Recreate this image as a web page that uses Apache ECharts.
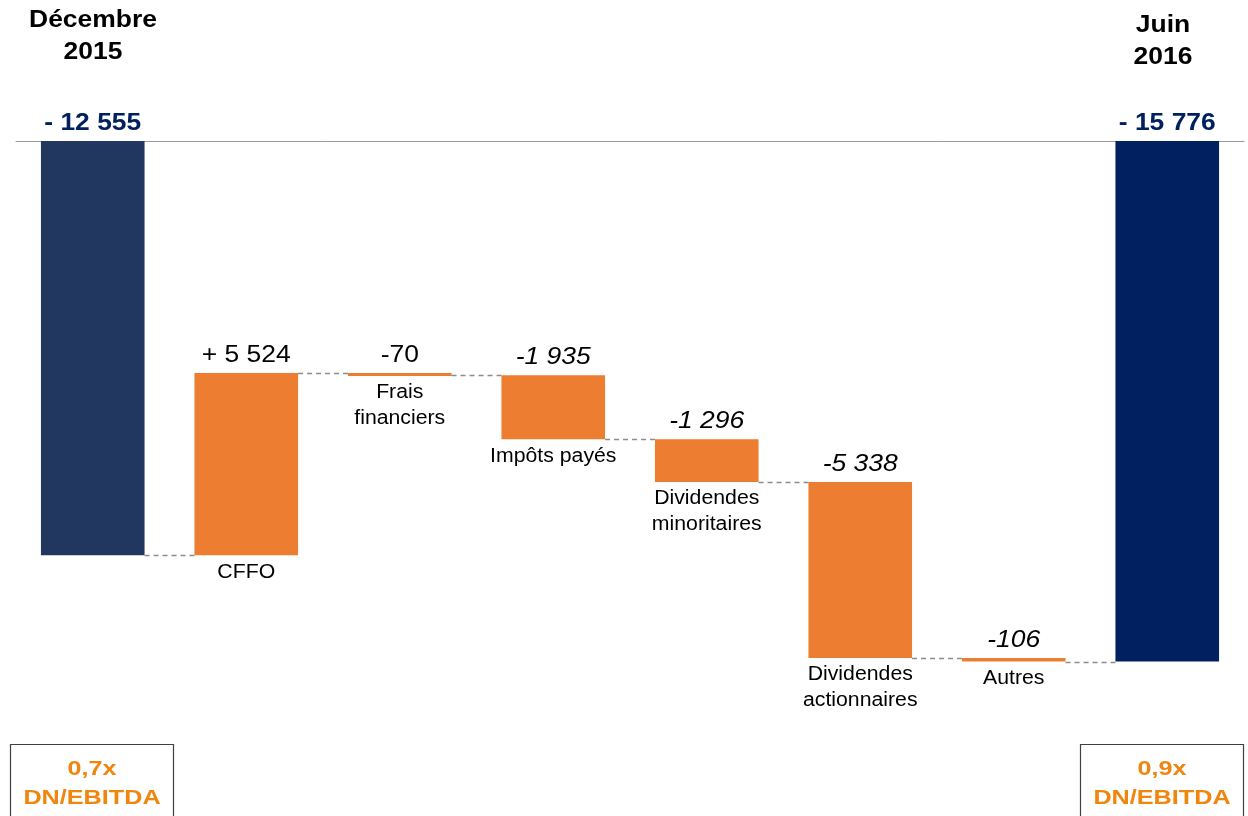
<!DOCTYPE html>
<html>
<head>
<meta charset="utf-8">
<style>html,body{margin:0;padding:0;background:#fff}#chart{width:1248px;height:816px}</style>
<script src="https://cdn.jsdelivr.net/npm/echarts@6/dist/echarts.min.js"></script>
</head>
<body>
<div id="chart"></div>
<script>
// ---- data ----
const categories = ['Décembre 2015', 'CFFO', 'Frais\nfinanciers', 'Impôts payés', 'Dividendes\nminoritaires', 'Dividendes\nactionnaires', 'Autres', 'Juin 2016'];
const deltas = [-12555, 5524, -70, -1935, -1296, -5338, -106, -15776];
const valueLabels = ['- 12 555', '+ 5 524', '-70', '-1 935', '-1 296', '-5 338', '-106', '- 15 776'];
const totalFlags = [true, false, false, false, false, false, false, true];
const headerStart = ['Décembre', '2015'];
const headerEnd = ['Juin', '2016'];
const ratioStart = ['0,7x', 'DN/EBITDA'];
const ratioEnd = ['0,9x', 'DN/EBITDA'];

// ---- build waterfall rows [index, start, end, isTotal] ----
const rows = [];
let running = 0;
deltas.forEach(function (d, i) {
  if (totalFlags[i]) {
    rows.push([i, 0, d, 1]);
    running = d;
  } else {
    rows.push([i, running, running + d, 0]);
    running += d;
  }
});

const chart = echarts.init(document.getElementById('chart'));
const FONT = 'Liberation Sans, Arial, sans-serif';
const STRETCH = 1.15;

function renderItem(params, api) {
  const idx = api.value(0);
  const start = api.value(1);
  const end = api.value(2);
  const isTotal = api.value(3) === 1;
  const band = api.size([1, 0])[0];
  const w = band * 0.675;
  const p1 = api.coord([idx, start]);
  const p2 = api.coord([idx, end]);
  let top = Math.min(p1[1], p2[1]);
  let bottom = Math.max(p1[1], p2[1]);
  if (bottom - top < 3) bottom = top + 3;
  const cx = p1[0];
  let color = '#ED7D31';
  if (isTotal) color = idx === 0 ? '#21375F' : '#002060';
  const children = [{
    type: 'rect',
    shape: { x: cx - w / 2, y: top, width: w, height: bottom - top },
    style: { fill: color }
  }];
  const italic = !isTotal && idx !== 1 && idx !== 2;
  children.push({
    type: 'text',
    x: cx, y: top - 6,
    scaleX: isTotal ? 1.1 : STRETCH,
    style: {
      text: valueLabels[idx],
      x: 0, y: 0,
      align: 'center', verticalAlign: 'bottom',
      fontFamily: FONT,
      fontSize: isTotal ? 24 : 23,
      fontWeight: isTotal ? 'bold' : 'normal',
      fontStyle: italic ? 'italic' : 'normal',
      fill: isTotal ? '#002060' : '#000'
    }
  });
  if (!isTotal) {
    children.push({
      type: 'text',
      x: cx, y: bottom + 4,
      scaleX: 1.09,
      style: {
        text: categories[idx],
        x: 0, y: 0,
        align: 'center', verticalAlign: 'top',
        fontFamily: FONT, fontSize: 19.5, lineHeight: 26,
        fill: '#000'
      }
    });
  }
  if (idx < categories.length - 1) {
    const pn = api.coord([idx + 1, end]);
    const y = Math.round(p2[1]) + 0.5;
    children.push({
      type: 'line',
      shape: { x1: cx + w / 2, y1: y, x2: pn[0] - w / 2, y2: y },
      style: { stroke: '#8c8c8c', lineWidth: 1.3, lineDash: [5, 4] }
    });
  }
  return { type: 'group', children: children };
}

function textLine(cx, cy, txt, size, color, sx) {
  return {
    type: 'text', x: cx, y: cy, scaleX: sx, z: 10,
    style: {
      text: txt, x: 0, y: 0, align: 'center', verticalAlign: 'middle',
      fontFamily: FONT, fontSize: size, fontWeight: 'bold', fill: color
    }
  };
}

function box(x, cx, lines) {
  return [
    {
      type: 'rect', x: x, y: 744.5,
      shape: { x: 0, y: 0, width: 163, height: 90 },
      style: { fill: '#fff', stroke: '#404040', lineWidth: 1.2 }
    },
    textLine(cx, 769, lines[0], 21, '#F0860E', 1.2),
    textLine(cx, 798, lines[1], 21, '#F0860E', 1.2)
  ];
}

chart.setOption({
  animation: false,
  grid: { left: 16, right: 4, top: 141, bottom: 147 },
  xAxis: {
    type: 'category',
    data: categories,
    position: 'top',
    axisLine: { show: true, lineStyle: { color: '#9a9a9a', width: 1 } },
    axisTick: { show: false },
    axisLabel: { show: false },
    splitLine: { show: false }
  },
  yAxis: {
    type: 'value', min: -16000, max: 0,
    show: false, splitLine: { show: false }
  },
  series: [{
    type: 'custom',
    renderItem: renderItem,
    data: rows,
    encode: { x: 0, y: [1, 2] },
    clip: false
  }],
  graphic: [
    textLine(93, 21, headerStart[0], 23, '#000', STRETCH),
    textLine(93, 53, headerStart[1], 23, '#000', STRETCH),
    textLine(1163, 26, headerEnd[0], 23, '#000', STRETCH),
    textLine(1163, 58, headerEnd[1], 23, '#000', STRETCH)
  ].concat(box(10.5, 92, ratioStart), box(1080.5, 1162, ratioEnd))
});
</script>
</body>
</html>
